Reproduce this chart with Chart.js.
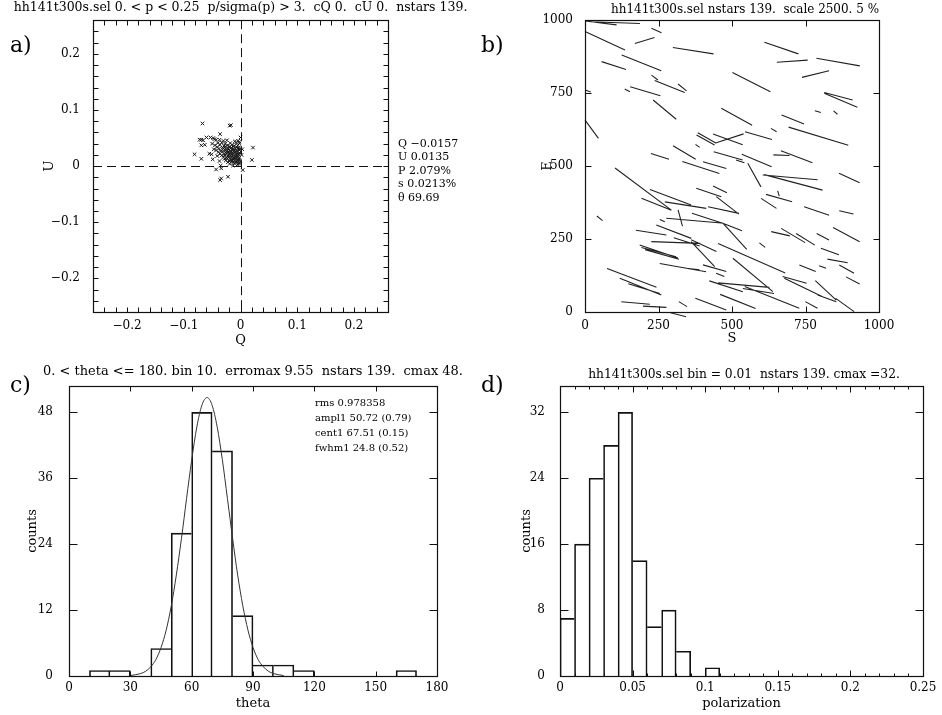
<!DOCTYPE html>
<html><head><meta charset="utf-8">
<script src="https://cdn.jsdelivr.net/npm/chart.js@4.4.0/dist/chart.umd.min.js"></script>
<style>
html,body{margin:0;padding:0;background:#fff;}
#wrap{position:relative;width:942px;height:715px;overflow:hidden;background:#fff;}
canvas{position:absolute;}
.lbl{position:absolute;font-family:"DejaVu Serif","Liberation Serif",serif;font-size:22px;line-height:1;color:#000;}
</style></head><body>
<div id="wrap">
<canvas id="ca" style="left:0;top:0" width="471" height="357"></canvas>
<canvas id="cb" style="left:471px;top:0" width="471" height="357"></canvas>
<canvas id="cc" style="left:0;top:357px" width="471" height="358"></canvas>
<canvas id="cd" style="left:471px;top:357px" width="471" height="358"></canvas>
<div class="lbl" style="left:10px;top:34px">a)</div>
<div class="lbl" style="left:481px;top:34px">b)</div>
<div class="lbl" style="left:10px;top:374px">c)</div>
<div class="lbl" style="left:481px;top:374px">d)</div>
</div>
<script>
// ---------------- Panel a : Q-U plane ----------------
const qValues = [
 -0.067,-0.019,-0.017,-0.036,-0.072,-0.069,-0.066,-0.060,-0.053,-0.048,-0.046,-0.043,-0.037,0.000,-0.002,
 -0.069,-0.063,0.022,-0.081,-0.069,-0.055,-0.051,0.020,-0.037,0.004,-0.043,-0.034,-0.034,-0.036,-0.022,
 -0.050,-0.047,-0.041,-0.049,0.002,0.003,-0.035,-0.013,
 -0.030,-0.024,-0.010,-0.004,
 -0.040,-0.033,-0.027,-0.018,-0.008,-0.002,
 -0.045,-0.036,-0.029,-0.022,-0.015,-0.011,-0.005,
 -0.041,-0.032,-0.026,-0.020,-0.016,-0.012,-0.007,-0.003,
 -0.038,-0.030,-0.025,-0.021,-0.017,-0.013,-0.009,-0.004,-0.001,
 -0.043,-0.034,-0.028,-0.023,-0.019,-0.015,-0.011,-0.007,-0.003,
 -0.039,-0.031,-0.026,-0.022,-0.018,-0.014,-0.010,-0.006,-0.002,
 -0.036,-0.029,-0.024,-0.020,-0.016,-0.012,-0.008,-0.004,-0.001,
 -0.033,-0.027,-0.022,-0.018,-0.014,-0.010,-0.006,-0.003,
 -0.030,-0.025,-0.020,-0.016,-0.012,-0.008,-0.005,-0.002,
 -0.028,-0.023,-0.018,-0.013,-0.009,-0.006,-0.003,
 -0.026,-0.020,-0.015,-0.011,-0.007,-0.004,-0.001,
 -0.022,-0.016,-0.012,-0.008,-0.004,-0.002,
 -0.019,-0.010,-0.005,-0.002
];
const uValues = [
 0.076,0.072,0.073,0.057,0.047,0.047,0.046,0.051,0.051,0.050,0.048,0.047,0.047,0.051,0.043,
 0.037,0.038,0.033,0.021,0.013,0.022,0.021,0.011,0.009,-0.007,-0.006,-0.004,-0.022,-0.025,-0.019,
 0.040,0.030,0.018,0.012,0.020,0.030,0.001,0.001,
 0.045,0.046,0.044,0.045,
 0.041,0.042,0.040,0.041,0.042,0.040,
 0.037,0.038,0.036,0.037,0.038,0.036,0.037,
 0.034,0.033,0.035,0.034,0.033,0.035,0.034,0.033,
 0.031,0.032,0.030,0.031,0.032,0.030,0.031,0.032,0.030,
 0.028,0.027,0.029,0.028,0.027,0.029,0.028,0.027,0.029,
 0.025,0.026,0.024,0.025,0.026,0.024,0.025,0.026,0.024,
 0.022,0.021,0.023,0.022,0.021,0.023,0.022,0.021,0.023,
 0.019,0.020,0.018,0.019,0.020,0.018,0.019,0.020,
 0.016,0.015,0.017,0.016,0.015,0.017,0.016,0.015,
 0.013,0.014,0.012,0.013,0.014,0.012,0.013,
 0.010,0.009,0.011,0.010,0.009,0.011,0.010,
 0.007,0.008,0.006,0.007,0.008,0.006,
 0.004,0.005,0.003,0.004
];
const quTicks = [-0.2,-0.1,0,0.1,0.2];
const quTickLabels = ['\u22120.2','\u22120.1','0','0.1','0.2'];
const qStatsLines = ['Q \u22120.0157','U 0.0135','P 2.079%','s 0.0213%','\u03b8 69.69'];
const titleA = 'hh141t300s.sel 0. < p < 0.25  p/sigma(p) > 3.  cQ 0.  cU 0.  nstars 139.';

// ---------------- Panel b : polarization vector map ----------------
const starX = [54,102,243,68,203,368,668,705,861,98,192,566,784,237,288,331,144,205,10,862,870,271,516,792,852,707,23,794,642,590,415,410,486,493,383,338,487,584,720,668,255,
 394,441,528,576,698,709,899,198,291,243,342,421,459,485,471,625,660,658,788,889,50,324,370,416,499,263,510,225,302,665,708,750,889,809,603,346,404,308,251,251,262,
 333,367,401,567,571,757,808,833,859,890,911,159,189,201,441,460,480,540,636,590,713,743,819,823,172,237,333,428,520,770,884,316];
const starY = [990,991,964,929,930,895,904,859,856,844,853,787,815,803,772,769,759,756,757,739,725,693,669,686,683,659,626,602,623,604,596,589,591,595,569,546,535,519,532,537,533,
 495,503,516,469,461,444,459,421,393,369,366,409,420,365,349,372,390,406,346,341,321,322,313,321,292,313,259,272,275,268,262,249,265,258,229,240,227,238,207,205,197,
 152,147,198,184,127,150,154,207,175,147,108,117,87,80,150,127,88,92,50,72,110,84,74,47,31,18,27,27,36,24,24,-9];
const starP = [4.3,6.8,1.5,6.0,2.8,5.6,4.9,4.2,6.0,3.5,5.8,5.8,3.8,1.1,4.4,1.5,0.8,4.3,0.8,4.0,4.9,4.1,4.8,0.85,0.7,3.3,3.1,8.5,0.9,3.8,2.9,2.8,4.3,3.9,0.7,3.6,4.1,4.4,4.6,2.2,2.6,
 5.3,3.3,1.2,3.7,7.5,8.2,3.1,9.6,6.0,4.4,5.7,3.6,2.1,3.9,4.3,2.5,3.7,0.75,3.6,2.0,1.0,2.3,7.5,4.4,3.0,0.75,4.8,4.2,5.1,2.6,3.8,3.0,4.1,1.9,1.0,3.7,3.8,6.6,5.5,4.9,4.8,
 6.4,1.8,4.7,10.0,7.1,2.4,1.0,2.6,2.8,2.3,2.1,7.2,6.1,4.5,3.3,1.2,4.8,7.0,8.0,4.3,3.4,5.8,3.9,2.7,3.9,3.2,1.3,4.5,5.2,1.9,3.1,2.3];
const starTheta = [83,88,66,65,107,81,71,94,80,72,68,63,104,53,68,51,62,73,70,75,67,50,61,74,50,68,36,73,59,74,60,61,70,108,54,59,74,67,69,88,72,
 72,74,72,29,85,75,65,53,69,68,81,71,64,52,78,57,74,17,71,77,51,15,85,72,69,65,42,81,69,77,59,58,62,62,52,72,65,88,71,75,74,
 80,83,43,66,50,68,70,70,80,61,62,69,68,73,74,68,72,85,68,81,74,64,47,70,85,87,58,69,68,61,54,75];
const vectorScale = 2500;
const mapTicks = [0,250,500,750,1000];
const mapTickLabels = ['0','250','500','750','1000'];
const titleB = 'hh141t300s.sel nstars 139.  scale 2500. 5 %';

// ---------------- Panel c : theta histogram ----------------
const thetaBinCenters = [5,15,25,35,45,55,65,75,85,95,105,115,125,135,145,155,165,175];
const thetaCounts     = [0,1,1,0,5,26,48,41,11,2,2,1,0,0,0,0,1,0];
const fitTheta  = [30,35,37.5,40,42.5,45,47.5,50,52.5,55,57.5,60,62.5,65,67.5,70,72.5,75,77.5,80,82.5,85,87.5,90,92.5,95,97.5,100,105];
const fitCounts = [0.09,0.43,0.87,1.68,3.0,5.16,8.3,12.7,18.4,25.0,32.3,39.3,45.3,49.3,50.7,49.3,45.3,39.4,32.3,25.1,18.4,12.8,8.4,5.2,3.0,1.7,0.88,0.44,0.09];
const thetaTicks = [0,30,60,90,120,150,180];
const thetaTickLabels = ['0','30','60','90','120','150','180'];
const countTicksC = [0,12,24,36,48];
const countTickLabelsC = ['0','12','24','36','48'];
const fitStatsLines = ['rms 0.978358','ampl1 50.72 (0.79)','cent1 67.51 (0.15)','fwhm1 24.8 (0.52)'];
const titleC = '0. < theta <= 180. bin 10.  erromax 9.55  nstars 139.  cmax 48.';

// ---------------- Panel d : polarization histogram ----------------
const polBinCenters = [0.005,0.015,0.025,0.035,0.045,0.055,0.065,0.075,0.085,0.095,0.105];
const polCounts     = [7,16,24,28,32,14,6,8,3,0,1];
const polTicks = [0,0.05,0.1,0.15,0.2,0.25];
const polTickLabels = ['0','0.05','0.1','0.15','0.2','0.25'];
const countTicksD = [0,8,16,24,32];
const countTickLabelsD = ['0','8','16','24','32'];
const titleD = 'hh141t300s.sel bin = 0.01  nstars 139. cmax =32.';

// ================= rendering =================
const FONT = '"DejaVu Serif", "Liberation Serif", serif';
Chart.defaults.font.family = FONT;
Chart.defaults.color = '#000';

function axis(o) {
  return {
    type: 'linear', position: o.pos, min: o.min, max: o.max, offset: false,
    grid: { display: false, drawTicks: false },
    border: { display: false },
    afterBuildTicks: s => { s.ticks = o.ticks.map(v => ({ value: v })); },
    afterFit: s => { if (o.pos === 'left') s.width = o.size; else s.height = o.size; },
    ticks: { autoSkip: false, maxRotation: 0, minRotation: 0, padding: o.pad, color: '#000',
             font: { family: FONT, size: 12 }, callback: (v, i) => o.labels[i] },
    title: { display: true, text: o.title, color: '#000', font: { family: FONT, size: 13 }, padding: o.titlePad }
  };
}

function marks(from, to, step, majorEvery, lenMajor, lenMinor) {
  const out = [];
  const n = Math.round((to - from) / step);
  for (let i = 0; i <= n; i++) {
    const v = from + i * step;
    const isMajor = majorEvery ? (i % majorEvery === 0) : true;
    out.push([v, isMajor ? lenMajor : lenMinor]);
  }
  return out;
}

function framePlugin(cfg) {
  return {
    id: 'frame',
    beforeDatasetsDraw(chart) {
      if (!cfg.zeroLines) return;
      const { ctx, chartArea: a, scales: { x, y } } = chart;
      ctx.save();
      ctx.strokeStyle = '#111'; ctx.lineWidth = 1; ctx.setLineDash([9, 5]);
      const px = Math.round(x.getPixelForValue(0)) + 0.5, py = Math.round(y.getPixelForValue(0)) + 0.5;
      ctx.beginPath();
      ctx.moveTo(px, a.top); ctx.lineTo(px, a.bottom);
      ctx.moveTo(a.left, py); ctx.lineTo(a.right, py);
      ctx.stroke();
      ctx.restore();
    },
    afterDraw(chart) {
      const { ctx, chartArea: a, scales: { x, y } } = chart;
      ctx.save();
      ctx.strokeStyle = '#111'; ctx.lineWidth = 1.2;
      const L = Math.round(a.left) + 0.5, T = Math.round(a.top) + 0.5, R = Math.round(a.right) + 0.5, B = Math.round(a.bottom) + 0.5;
      ctx.strokeRect(L, T, R - L, B - T);
      ctx.lineWidth = 1;
      ctx.beginPath();
      (cfg.xMarks || []).forEach(([v, len]) => {
        const p = Math.round(x.getPixelForValue(v)) + 0.5;
        if (p <= L + 1 || p >= R - 1) return;
        ctx.moveTo(p, B); ctx.lineTo(p, B - len);
        ctx.moveTo(p, T); ctx.lineTo(p, T + len);
      });
      (cfg.yMarks || []).forEach(([v, len]) => {
        const p = Math.round(y.getPixelForValue(v)) + 0.5;
        if (p <= T + 1 || p >= B - 1) return;
        ctx.moveTo(L, p); ctx.lineTo(L + len, p);
        ctx.moveTo(R, p); ctx.lineTo(R - len, p);
      });
      ctx.stroke();
      // title
      ctx.fillStyle = '#000';
      ctx.textBaseline = 'middle';
      ctx.textAlign = 'center';
      ctx.font = '12px ' + FONT;
      const w = ctx.measureText(cfg.title).width;
      const fs = 12 * cfg.titleWidth / w;
      ctx.font = fs.toFixed(2) + 'px ' + FONT;
      const cx = cfg.titleX !== undefined ? cfg.titleX : (a.left + a.right) / 2;
      ctx.fillText(cfg.title, cx, cfg.titleY);
      // stats
      if (cfg.stats) {
        ctx.textAlign = 'left';
        ctx.font = cfg.statsSize + 'px ' + FONT;
        cfg.stats.forEach((s, i) => ctx.fillText(s, cfg.statsX, cfg.statsY + i * cfg.statsDy));
      }
      ctx.restore();
    }
  };
}

const common = {
  responsive: false, animation: false, devicePixelRatio: 1,
  plugins: { legend: { display: false }, tooltip: { enabled: false }, title: { display: false } }
};

// ---- Panel a
new Chart(document.getElementById('ca'), {
  type: 'scatter',
  data: { datasets: [{
    data: qValues.map((q, i) => ({ x: q, y: uValues[i] })),
    pointStyle: 'crossRot', pointRadius: 2.5, pointBorderColor: '#1a1a1a', pointBackgroundColor: '#1a1a1a', pointBorderWidth: 1
  }] },
  options: Object.assign({}, common, {
    layout: { padding: { top: 20, right: 83, left: 0, bottom: 0 } },
    scales: {
      x: axis({ pos: 'bottom', min: -0.26, max: 0.26, ticks: quTicks, labels: quTickLabels, size: 45, pad: 7, title: 'Q', titlePad: { top: 0, bottom: 9 } }),
      y: axis({ pos: 'left', min: -0.26, max: 0.26, ticks: quTicks, labels: quTickLabels, size: 93, pad: 13, title: 'U', titlePad: { top: 42, bottom: 0 } })
    }
  }),
  plugins: [framePlugin({
    zeroLines: true,
    xMarks: marks(-0.24, 0.24, 0.02, 0, 5, 5),
    yMarks: marks(-0.24, 0.24, 0.02, 0, 5, 5),
    title: titleA, titleWidth: 454, titleY: 8,
    stats: qStatsLines, statsX: 398, statsY: 144, statsDy: 13.5, statsSize: 11
  })]
});

// ---- Panel b
const vectorPoints = [];
starX.forEach((sx, i) => {
  const half = starP[i] / 100 * vectorScale / 2;
  const ang = (90 + starTheta[i]) * Math.PI / 180;
  const dx = half * Math.cos(ang), dy = half * Math.sin(ang);
  vectorPoints.push({ x: sx - dx, y: starY[i] - dy }, { x: sx + dx, y: starY[i] + dy }, { x: sx, y: null });
});
new Chart(document.getElementById('cb'), {
  type: 'scatter',
  data: { datasets: [{
    data: vectorPoints, showLine: true, spanGaps: false, borderColor: '#222', borderWidth: 1.1,
    pointRadius: 0, clip: { left: 3, top: 3, right: 3, bottom: 6 }
  }] },
  options: Object.assign({}, common, {
    layout: { padding: { top: 20, right: 63, left: 0, bottom: 0 } },
    scales: {
      x: axis({ pos: 'bottom', min: 0, max: 1000, ticks: mapTicks, labels: mapTickLabels, size: 45, pad: 7, title: 'S', titlePad: { top: 0, bottom: 11 } }),
      y: axis({ pos: 'left', min: 0, max: 1000, ticks: mapTicks, labels: mapTickLabels, size: 114, pad: 12, title: 'E', titlePad: { top: 69, bottom: 0 } })
    }
  }),
  plugins: [framePlugin({
    xMarks: [[250, 6], [500, 6], [750, 6]],
    yMarks: [[250, 6], [500, 6], [750, 6]],
    title: titleB, titleWidth: 268, titleY: 10, titleX: 274
  })]
});

// ---- Panel c
function edgeWidths(counts) {
  return counts.map((c, i) => ({
    top: 1, bottom: 0,
    left: (i === 0 || c > counts[i - 1]) ? 1 : 0,
    right: (i === counts.length - 1 || c >= counts[i + 1]) ? 1 : 0
  }));
}
const thetaEdges = edgeWidths(thetaCounts);
new Chart(document.getElementById('cc'), {
  type: 'bar',
  data: { datasets: [
    { type: 'line', data: fitTheta.map((t, i) => ({ x: t, y: fitCounts[i] })), borderColor: '#333', borderWidth: 1,
      pointRadius: 0, cubicInterpolationMode: 'monotone', order: 0 },
    { type: 'bar', data: thetaBinCenters.map((t, i) => ({ x: t, y: thetaCounts[i] })), backgroundColor: 'rgba(0,0,0,0)',
      borderColor: '#111', borderWidth: ctx => thetaEdges[ctx.dataIndex], borderSkipped: false,
      barPercentage: 1, categoryPercentage: 1, order: 1 }
  ] },
  options: Object.assign({}, common, {
    layout: { padding: { top: 29, right: 34, left: 0, bottom: 0 } },
    scales: {
      x: axis({ pos: 'bottom', min: 0, max: 180, ticks: thetaTicks, labels: thetaTickLabels, size: 39, pad: 5, title: 'theta', titlePad: { top: 0, bottom: 4 } }),
      y: axis({ pos: 'left', min: 0, max: 52.8, ticks: countTicksC, labels: countTickLabelsC, size: 69, pad: 16, title: 'counts', titlePad: { top: 25, bottom: 0 } })
    }
  }),
  plugins: [framePlugin({
    xMarks: marks(30, 150, 30, 0, 5, 5),
    yMarks: marks(12, 48, 12, 0, 8, 8),
    title: titleC, titleWidth: 420, titleY: 15,
    stats: fitStatsLines, statsX: 315, statsY: 46, statsDy: 15, statsSize: 10
  })]
});

// ---- Panel d
const polEdges = edgeWidths(polCounts);
new Chart(document.getElementById('cd'), {
  type: 'bar',
  data: { datasets: [
    { type: 'bar', data: polBinCenters.map((p, i) => ({ x: p, y: polCounts[i] })), backgroundColor: 'rgba(0,0,0,0)',
      borderColor: '#111', borderWidth: ctx => polEdges[ctx.dataIndex], borderSkipped: false,
      barPercentage: 1, categoryPercentage: 1 }
  ] },
  options: Object.assign({}, common, {
    layout: { padding: { top: 29, right: 19, left: 0, bottom: 0 } },
    scales: {
      x: axis({ pos: 'bottom', min: 0, max: 0.25, ticks: polTicks, labels: polTickLabels, size: 39, pad: 5, title: 'polarization', titlePad: { top: 0, bottom: 4 } }),
      y: axis({ pos: 'left', min: 0, max: 35.2, ticks: countTicksD, labels: countTickLabelsD, size: 89, pad: 15, title: 'counts', titlePad: { top: 48, bottom: 0 } })
    }
  }),
  plugins: [framePlugin({
    xMarks: marks(0.01, 0.24, 0.01, 0, 3, 3).map(([v, l]) => [v, Math.abs(v / 0.05 - Math.round(v / 0.05)) < 1e-6 ? 6 : 3]),
    yMarks: marks(8, 32, 8, 0, 8, 8),
    title: titleD, titleWidth: 312, titleY: 18, titleX: 273
  })]
});
</script>
</body></html>
